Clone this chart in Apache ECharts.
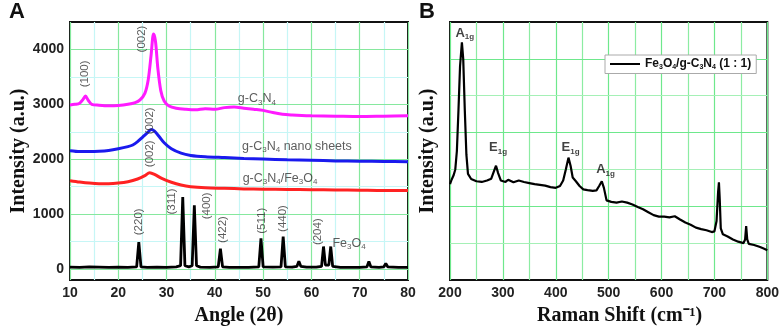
<!DOCTYPE html>
<html>
<head>
<meta charset="utf-8">
<script src="https://cdn.jsdelivr.net/npm/echarts@6/dist/echarts.min.js"></script>
<style>
  html, body { margin: 0; padding: 0; background: #fff; }
  #chart { width: 782px; height: 331px; }
</style>
</head>
<body>
<div id="chart"></div>
<script>
// ---- panel A: XRD patterns, [2theta, intensity] ----
const gC3N4 = [[10,2990],[11,3000],[12,3020],[12.7,3090],[13.2,3150],[13.8,3070],[14.5,3000],[16,2985],[18,2975],[20,2980],[22,3000],[23.5,3030],[24.5,3080],
  [25.5,3200],[26.2,3450],[26.8,3900],[27.3,4280],[27.7,4150],[28.2,3650],[28.8,3250],[29.5,3060],[30.5,2970],[32,2930],[34,2910],[36,2900],[38,2920],
  [40,2910],[42,2940],[44,2950],[46,2930],[48,2910],[50,2890],[52,2850],[54,2820],[56,2805],[58,2795],[60,2790],[65,2785],[70,2780],[75,2785],[80,2790]];
const nanoSheets = [[10,2155],[12,2140],[14,2140],[16,2145],[18,2160],[20,2190],[22,2230],[23,2260],[24,2320],[25,2400],[26,2480],[26.8,2540],[27.5,2510],
  [28.5,2410],[29.5,2300],[31,2190],[33,2110],[35,2070],[38,2045],[42,2030],[46,2015],[50,2005],[55,1990],[60,1980],[65,1970],[70,1965],[75,1960],[80,1955]];
const gC3N4Fe3O4 = [[10,1610],[12,1585],[14,1565],[16,1555],[18,1555],[20,1565],[22,1590],[24,1640],[25.5,1700],[26.5,1755],[27.5,1725],[29,1650],
  [31,1580],[33,1530],[35,1500],[38,1480],[42,1470],[46,1460],[50,1455],[55,1450],[60,1445],[65,1440],[70,1435],[75,1430],[80,1430]];
const fe3o4 = [[10,35],[12,30],[14,40],[16,35],[18,30],[20,35],[22,30],[23.8,40],[24.25,490],[24.7,40],[26,30],[28,35],[30,30],[32,40],[32.9,60],
  [33.35,1310],[33.8,60],[34.6,40],[35.3,60],[35.75,1160],[36.2,60],[37,35],[39,30],[40.7,40],[41.15,370],[41.6,40],[43,30],[45,30],[47,30],
  [49.1,40],[49.55,560],[50,40],[52,35],[53.7,40],[54.15,590],[54.6,40],[56,35],[57,50],[57.4,140],[57.8,50],[59,35],[61,35],[62.1,50],[62.5,410],
  [62.9,70],[63.6,70],[64.0,410],[64.4,50],[66,30],[68,30],[70,30],[71.5,40],[71.9,135],[72.3,40],[74,30],[75,40],[75.4,100],[75.8,40],[78,30],[80,30]];

// peak index labels (rotated) and curve names, [2theta, intensity, text]
const peakLabels = [[13.1,3555,'(100)'],[24.9,4190,'(002)'],[26.6,2700,'(002)'],[26.6,2100,'(002)'],[24.3,860,'(220)'],[31.1,1230,'(311)'],
  [38.4,1150,'(400)'],[41.7,720,'(422)'],[49.8,880,'(511)'],[54.1,920,'(440)'],[61.4,680,'(204)']];
const curveLabels = [[48.7,3100,'g-C{s|3}N{s|4}'],[57,2230,'g-C{s|3}N{s|4} nano sheets'],[53.5,1650,'g-C{s|3}N{s|4}/Fe{s|3}O{s|4}'],[67.8,470,'Fe{s|3}O{s|4}']];
const yTicksA = [0, 1000, 2000, 3000, 4000];
const yMajorA = [0, 1000, 2000, 3000, 4000];
const yMinorA = [500, 1500, 2500, 3500];

// ---- panel B: Raman spectrum, [shift, intensity a.u.] ----
const raman = [[200,2.6],[203,2.72],[207,2.85],[210,3.0],[213,3.5],[216,4.6],[219,5.8],[222.5,6.45],[225,6.0],[228,4.6],[231,3.4],[234,2.88],[240,2.74],
  [250,2.68],[260,2.66],[270,2.7],[278,2.75],[283,2.95],[287,3.1],[291,2.9],[296,2.7],[305,2.66],[310,2.72],[320,2.65],[330,2.7],[340,2.66],[350,2.63],
  [360,2.6],[370,2.58],[380,2.56],[390,2.52],[400,2.5],[408,2.55],[414,2.7],[419,3.0],[424,3.32],[428,3.1],[432,2.78],[438,2.68],[445,2.55],[452,2.46],
  [460,2.44],[470,2.42],[477,2.43],[482,2.55],[487,2.68],[491,2.5],[496,2.16],[505,2.12],[515,2.1],[525,2.13],[535,2.1],[545,2.05],[555,1.98],[565,1.92],
  [575,1.84],[585,1.76],[595,1.72],[605,1.72],[615,1.7],[625,1.73],[635,1.64],[645,1.56],[655,1.5],[665,1.42],[675,1.38],[685,1.35],[695,1.3],[700,1.32],
  [704,1.6],[707,2.4],[708.5,2.65],[710,2.2],[712,1.4],[716,1.24],[725,1.18],[735,1.1],[745,1.04],[755,1.0],[758,1.1],[760,1.46],[762,1.1],[765,0.98],
  [775,0.95],[785,0.9],[792,0.86],[800,0.81]];
const ramanLabels = [[228,6.7,'A{s|1g}'],[291,3.6,'E{s|1g}'],[428,3.6,'E{s|1g}'],[494,3.0,'A{s|1g}']];
const yGridB = [1, 2, 3, 4, 5, 6];

const chart = echarts.init(document.getElementById('chart'));

const sub = { fontSize: 8, padding: [7, 0, 0, 0] };
const tickFont = { fontFamily: 'Liberation Sans, Arial', fontWeight: 'bold', fontSize: 14, color: '#222' };
const nameFont = { fontFamily: 'Liberation Serif, Times New Roman', fontWeight: 'bold', fontSize: 20, color: '#111' };

// single-point carrier series (draws nothing itself) so horizontal grid lines go through the axis scale
function gridCarrier(xi, yi, x0, y0, lines) {
    return {
        name: 'grid' + xi, type: 'line', xAxisIndex: xi, yAxisIndex: yi, data: [[x0, y0]], z: 1, silent: true,
        showSymbol: false,
        markLine: { silent: true, symbol: 'none', z: 1, label: { show: false }, animation: false, data: lines },
    };
}

const option = {
    backgroundColor: '#fff',
    animation: false,
    title: [
        { text: 'A', left: 4, top: -4, textStyle: { fontFamily: 'Liberation Sans', fontWeight: 'bold', fontSize: 22, color: '#111' } },
        { text: 'B', left: 414, top: -4, textStyle: { fontFamily: 'Liberation Sans', fontWeight: 'bold', fontSize: 22, color: '#111' } },
    ],
    legend: {
        data: ['raman'],
        left: 605, top: 55, z: 10,
        backgroundColor: '#fff',
        borderColor: '#aaa', borderWidth: 1, borderRadius: 0,
        padding: [3, 5],
        itemWidth: 30, itemHeight: 2,
        icon: 'rect',
        formatter: () => 'Fe{s|3}O{s|4}/g-C{s|3}N{s|4} (1 : 1)',
        textStyle: { fontFamily: 'Liberation Sans', fontWeight: 'bold', fontSize: 12, color: '#111', rich: { s: { fontSize: 7, fontWeight: 'bold', padding: [6, 0, 0, 0] } } },
    },
    grid: [
        { left: 70, top: 22, width: 338, height: 260, show: true, borderColor: '#111', borderWidth: 2 },
        { left: 450, top: 22, width: 318, height: 259, show: true, borderColor: '#111', borderWidth: 2 },
    ],
    xAxis: [
        {
            gridIndex: 0, type: 'value', min: 10, max: 80, interval: 10,
            name: 'Angle (2θ)', nameLocation: 'middle', nameGap: 26, nameTextStyle: nameFont,
            axisLine: { show: false }, axisTick: { show: false },
            axisLabel: Object.assign({ margin: 6 }, tickFont),
            splitLine: { show: true, lineStyle: { color: '#86e89e', width: 1.2 } },
            minorTick: { show: false, splitNumber: 2 },
            minorSplitLine: { show: true, lineStyle: { color: '#c6f6f6', width: 1.2 } },
        },
        {
            gridIndex: 1, type: 'value', min: 200, max: 800, interval: 100,
            name: 'Raman Shift (cm⁻¹)', nameLocation: 'middle', nameGap: 26,
            nameTextStyle: Object.assign({ padding: [0, 0, 0, 22] }, nameFont),
            axisLine: { show: false }, axisTick: { show: false },
            axisLabel: Object.assign({ margin: 6 }, tickFont),
            splitLine: { show: true, lineStyle: { color: '#6ee88c', width: 1.2 } },
            minorTick: { show: false, splitNumber: 2 },
            minorSplitLine: { show: true, lineStyle: { color: '#8ceca2', width: 1.2 } },
        },
    ],
    yAxis: [
        {
            gridIndex: 0, type: 'value', min: -200, max: 4500,
            name: 'Intensity (a.u.)', nameLocation: 'middle', nameGap: 36, nameTextStyle: nameFont,
            axisLine: { show: false }, axisTick: { show: false },
            axisLabel: Object.assign({ margin: 6, customValues: yTicksA, formatter: v => String(v) }, tickFont),
            splitLine: { show: false },
        },
        {
            gridIndex: 1, type: 'value', min: 0, max: 7, interval: 1,
            name: 'Intensity (a.u.)', nameLocation: 'middle', nameGap: 12, nameTextStyle: nameFont,
            axisLine: { show: false }, axisTick: { show: false },
            axisLabel: { show: false },
            splitLine: { show: false },
        },
    ],
    series: [
        gridCarrier(0, 0, 10, -200,
            yMinorA.map(v => ({ yAxis: v, lineStyle: { color: '#c6f6f6', width: 1.2, type: 'solid', opacity: 1 } }))
                .concat(yMajorA.map(v => ({ yAxis: v, lineStyle: { color: '#86e89e', width: 1.2, type: 'solid', opacity: 1 } })))),
        gridCarrier(1, 1, 200, 0,
            yGridB.map(v => ({ yAxis: v, lineStyle: { color: v % 2 === 0 ? '#6ee88c' : '#a5f0b6', width: 1.2, type: 'solid', opacity: 1 } }))),
        { name: 'gC3N4', type: 'line', xAxisIndex: 0, yAxisIndex: 0, data: gC3N4, showSymbol: false, smooth: 0.3, z: 3, lineStyle: { color: '#ff1aff', width: 3 } },
        { name: 'nano', type: 'line', xAxisIndex: 0, yAxisIndex: 0, data: nanoSheets, showSymbol: false, smooth: 0.3, z: 3, lineStyle: { color: '#1a1aee', width: 3 } },
        { name: 'composite', type: 'line', xAxisIndex: 0, yAxisIndex: 0, data: gC3N4Fe3O4, showSymbol: false, smooth: 0.3, z: 3, lineStyle: { color: '#ff2222', width: 3 } },
        { name: 'fe3o4', type: 'line', xAxisIndex: 0, yAxisIndex: 0, data: fe3o4, showSymbol: false, z: 4, lineStyle: { color: '#000', width: 2.8 } },
        {
            name: 'peakLabels', type: 'scatter', xAxisIndex: 0, yAxisIndex: 0, symbolSize: 0, silent: true, z: 5,
            data: peakLabels.map(d => ({ value: [d[0], d[1]], name: d[2] })),
            label: { show: true, position: 'inside', formatter: '{b}', rotate: 90, fontFamily: 'Liberation Sans', fontSize: 11.5, color: '#333' },
        },
        {
            name: 'curveLabels', type: 'scatter', xAxisIndex: 0, yAxisIndex: 0, symbolSize: 0, silent: true, z: 5,
            data: curveLabels.map(d => ({ value: [d[0], d[1]], name: d[2] })),
            label: { show: true, position: 'inside', formatter: '{b}', fontFamily: 'Liberation Sans', fontSize: 12.5, color: '#333', rich: { s: sub } },
        },
        { name: 'raman', type: 'line', xAxisIndex: 1, yAxisIndex: 1, data: raman, showSymbol: false, z: 4, lineStyle: { color: '#000', width: 2.2 }, itemStyle: { color: '#000' } },
        {
            name: 'ramanLabels', type: 'scatter', xAxisIndex: 1, yAxisIndex: 1, symbolSize: 0, silent: true, z: 5,
            data: ramanLabels.map(d => ({ value: [d[0], d[1]], name: d[2] })),
            label: { show: true, position: 'inside', formatter: '{b}', fontFamily: 'Liberation Sans', fontWeight: 'bold', fontSize: 13, color: '#111',
                rich: { s: { fontSize: 8, fontWeight: 'bold', padding: [8, 0, 0, 0] } } },
        },
    ],
};

chart.setOption(option);
</script>
</body>
</html>
